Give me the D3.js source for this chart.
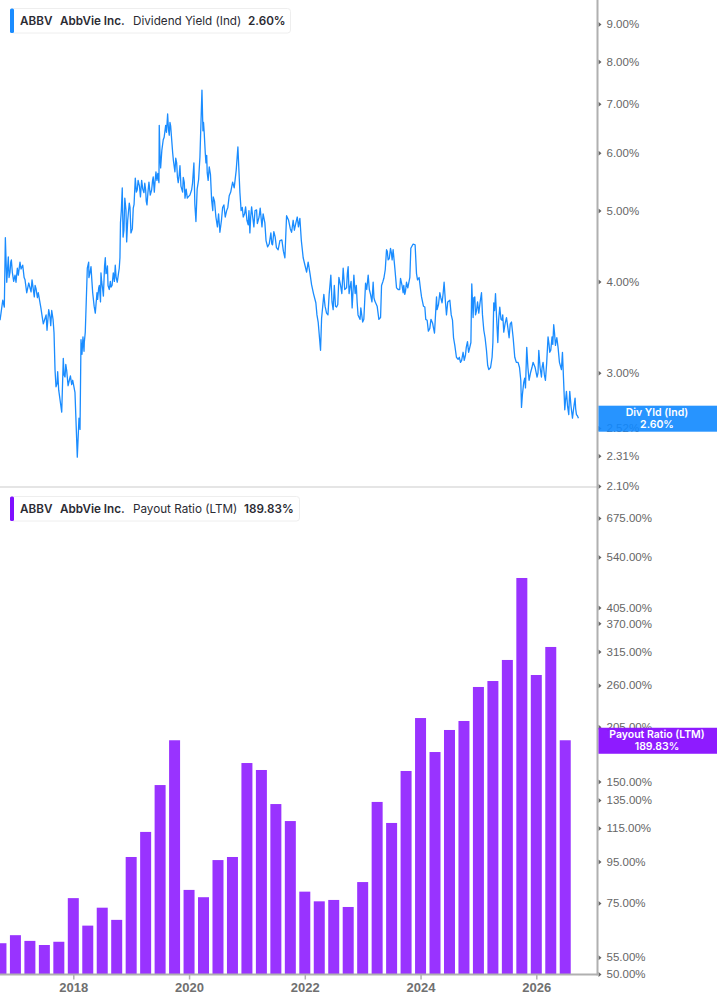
<!DOCTYPE html>
<html>
<head>
<meta charset="utf-8">
<script src="https://cdn.jsdelivr.net/npm/d3@7"></script>
<style>
  html, body { margin: 0; padding: 0; background: #fff; }
  svg { display: block; font-family: Inter, "Noto Sans", sans-serif; }
  .tick-label { font-size: 11.5px; fill: #666; }
  .year-label { font-size: 13px; font-weight: 600; fill: #707070; }
  .legend-text { font-size: 11.7px; fill: #2b2b33; }
  .tag-text { font-size: 10.5px; font-weight: 600; fill: #fff; text-anchor: middle; }
</style>
</head>
<body>
<svg id="chart" width="717" height="1005"></svg>
<script>
const yieldYears = [
  2016.734,2016.751,2016.781,2016.808,2016.826,2016.850,2016.877,2016.907,2016.919,2016.946,2016.993,
  2017.010,2017.033,2017.079,2017.097,2017.126,2017.166,2017.195,2017.252,2017.287,2017.326,2017.356,2017.395,
  2017.465,2017.482,2017.511,2017.546,2017.575,2017.598,2017.627,2017.667,2017.684,2017.701,2017.730,2017.748,
  2017.800,2017.827,2017.857,2017.886,2017.931,2017.972,2017.990,
  2018.029,2018.069,2018.098,2018.116,2018.133,2018.150,2018.167,2018.185,2018.207,2018.242,2018.266,2018.288,
  2018.306,2018.335,2018.380,2018.409,2018.439,2018.461,2018.478,2018.508,2018.553,2018.577,2018.622,2018.651,
  2018.691,2018.725,2018.760,2018.794,2018.806,2018.815,2018.846,2018.875,2018.910,2018.922,2018.967,2018.996,
  2019.036,2019.071,2019.105,2019.143,2019.181,2019.221,2019.250,2019.273,2019.307,2019.354,2019.381,2019.411,
  2019.428,2019.480,2019.485,2019.509,2019.554,2019.596,2019.630,2019.658,2019.682,2019.717,2019.756,2019.786,
  2019.813,2019.843,2019.889,2019.917,2019.986,
  2020.045,2020.084,2020.119,2020.165,2020.188,2020.223,2020.240,2020.262,2020.292,2020.314,2020.349,2020.390,
  2020.418,2020.464,2020.533,2020.602,2020.625,2020.694,2020.753,2020.780,2020.815,2020.844,2020.879,2020.936,2020.977,
  2021.022,2021.051,2021.081,2021.120,2021.167,2021.195,2021.229,2021.310,2021.357,2021.414,2021.443,2021.488,
  2021.540,2021.604,2021.656,2021.685,2021.772,2021.799,2021.846,2021.915,2021.972,
  2022.031,2022.058,2022.117,2022.191,2022.231,2022.272,2022.290,2022.329,2022.376,2022.421,2022.450,2022.490,
  2022.549,2022.589,2022.618,2022.663,2022.722,2022.749,2022.779,2022.818,2022.848,2022.905,2022.939,2022.968,
  2023.020,2023.050,2023.095,2023.136,2023.181,2023.210,2023.309,2023.326,2023.366,2023.412,2023.440,2023.481,
  2023.509,2023.526,2023.556,2023.585,2023.613,2023.654,2023.699,2023.728,2023.757,2023.815,2023.832,2023.872,
  2023.906,2023.948,2023.975,
  2024.017,2024.074,2024.114,2024.160,2024.207,2024.241,2024.276,2024.286,2024.333,2024.372,2024.407,2024.448,
  2024.506,2024.552,2024.592,2024.649,2024.690,2024.735,2024.776,2024.811,2024.851,2024.885,2024.908,2024.937,2024.967,
  2025.006,2025.053,2025.093,2025.139,2025.179,2025.236,2025.265,2025.295,2025.335,2025.369,2025.409,2025.438,
  2025.485,2025.530,2025.571,2025.628,2025.685,2025.732,2025.744,2025.783,2025.813,2025.835,2025.875,2025.944,
  2026.013,2026.043,2026.089,2026.117,2026.158,2026.203,2026.232,2026.272,2026.301,2026.331,2026.376,2026.434,
  2026.452,2026.492,2026.521,2026.561,2026.578,2026.625,2026.670,2026.694,2026.728
];
const yieldValues = [
  3.54,3.62,3.77,3.69,4.59,3.99,4.32,4.12,4.25,4.12,4.08,
  3.99,4.17,4.25,4.16,4.21,4.02,3.86,3.92,4.02,3.81,3.91,3.86,
  3.57,3.50,3.56,3.43,3.66,3.57,3.65,3.40,3.03,2.87,3.01,2.84,
  2.65,3.14,2.96,3.02,2.93,2.89,2.93,
  2.82,2.30,2.60,2.51,3.33,3.18,3.36,3.21,3.41,4.17,4.25,4.11,
  4.19,3.86,3.62,3.86,3.92,3.84,4.11,3.90,4.31,4.11,3.90,3.93,
  4.11,4.21,3.99,4.17,4.31,4.81,5.37,4.70,5.01,4.53,5.12,4.66,
  5.04,5.54,5.34,5.40,5.50,5.29,5.34,5.09,5.47,5.34,5.56,5.46,
  5.65,5.46,6.54,5.72,6.25,6.54,6.78,6.34,6.53,6.00,5.65,5.81,
  5.46,5.76,5.30,5.47,5.22,
  5.34,5.81,4.83,5.51,5.92,7.31,6.43,6.39,5.81,5.63,5.74,5.17,
  5.22,4.90,4.67,5.09,4.90,5.24,5.47,5.37,5.68,6.11,5.29,4.90,5.06,
  4.78,4.66,5.06,4.75,5.01,4.85,5.04,4.81,4.46,4.66,4.49,4.60,
  4.42,4.56,4.31,4.92,4.67,4.85,4.81,4.88,4.31,
  4.12,4.25,3.96,3.74,3.52,3.22,3.56,3.84,3.62,3.84,4.08,3.66,
  3.69,4.05,3.95,4.17,3.92,4.19,3.92,3.68,4.08,3.74,3.57,3.68,
  3.55,3.98,4.08,3.84,3.99,3.76,3.57,3.95,4.04,4.42,4.28,4.44,
  4.28,4.42,4.17,3.92,3.90,4.04,3.86,3.84,3.99,4.05,4.44,4.50,
  4.49,4.02,4.05,
  3.81,3.69,3.54,3.45,3.51,3.40,3.81,3.66,3.86,3.74,3.99,3.60,
  3.77,3.54,3.27,3.13,3.10,3.20,3.17,3.31,3.25,3.97,3.57,3.81,3.65,
  3.62,3.86,3.43,3.22,3.03,3.15,3.74,3.85,3.30,3.69,3.54,3.41,
  3.57,3.35,3.52,3.15,3.10,2.93,2.69,2.91,2.86,3.25,2.93,3.10,
  2.96,3.22,2.96,3.10,2.93,3.36,3.20,3.36,3.49,3.27,3.25,3.03,
  3.20,2.67,2.83,2.63,2.83,2.60,2.77,2.63,2.60
];

// finer wiggles of the same line
const yieldDetailYears = [
  2016.89,2016.93,2016.97,2017.05,2017.15,2017.23,2017.27,2017.34,2017.38,2017.44,2017.53,2017.61,2017.65,
  2017.72,2017.84,2017.87,2017.91,2017.95,2018.19,2018.27,2018.32,2018.36,2018.42,2018.45,2018.47,2018.49,
  2018.52,2018.54,2018.565,2018.59,2018.60,2018.64,2018.67,2018.71,2018.74,2018.78,2018.83,2018.86,2018.89,
  2018.94,2018.98,2019.02,2019.05,2019.09,2019.12,2019.16,2019.20,2019.235,2019.26,2019.29,2019.33,2019.37,
  2019.40,2019.445,2019.46,2019.50,2019.53,2019.57,2019.61,2019.645,2019.67,2019.73,2019.77,2019.80,2019.83,
  2019.86,2019.90,2019.93,2019.95,2019.97,2020.015,2020.06,2020.10,2020.14,2020.25,2020.28,2020.305,2020.33,
  2020.37,2020.41,2020.44,2020.49,2020.51,2020.56,2020.58,2020.65,2020.67,2020.72,2020.90,2020.92,2020.96,
  2021.00,2021.035,2021.065,2021.10,2021.14,2021.18,2021.21,2021.26,2021.28,2021.33,2021.385,2021.43,2021.465,
  2021.51,2021.57,2021.63,2021.72,2021.75,2021.82,2021.87,2021.89,2021.94,2022.09,2022.15,2022.21,2022.35,
  2022.40,2022.47,2022.51,2022.53,2022.57,2022.64,2022.69,2022.735,2022.765,2022.80,2022.87,2022.89,2022.92,
  2022.955,2023.00,2023.07,2023.115,2023.16,2023.195,2023.25,2023.28,2023.35,2023.39,2023.425,2023.46,2023.495,
  2023.64,2023.68,2023.71,2023.74,2023.78,2023.93,2024.00,2024.05,2024.09,2024.135,2024.18,2024.225,2024.31,
  2024.35,2024.39,2024.43,2024.47,2024.53,2024.57,2024.62,2024.67,2024.71,2024.755,2024.79,2024.83,2024.87,
  2024.92,2024.95,2024.985,2025.03,2025.07,2025.115,2025.16,2025.21,2025.25,2025.28,2025.315,2025.35,2025.39,
  2025.42,2025.46,2025.51,2025.55,2025.60,2025.655,2025.71,2025.76,2025.80,2025.855,2025.90,2025.925,2025.98,
  2026.03,2026.065,2026.10,2026.14,2026.18,2026.22,2026.25,2026.285,2026.315,2026.355,2026.40,2026.47,2026.505,
  2026.54,2026.57,2026.60,2026.65,2026.68,2026.71
];
const yieldDetailValues = [
  4.05,4.28,4.00,4.08,4.05,3.98,3.87,3.95,3.80,3.68,3.60,3.48,3.55,
  2.90,2.98,3.08,2.88,2.97,3.30,4.05,4.02,3.70,3.78,3.95,3.75,4.00,
  3.82,4.20,4.10,4.20,3.95,4.00,3.95,4.00,4.05,4.10,5.00,4.60,5.20,
  4.85,5.05,4.72,5.10,5.30,5.50,5.22,5.35,5.45,5.15,5.30,5.25,5.50,
  5.30,5.50,5.62,5.90,6.05,6.30,6.40,6.45,6.60,5.85,5.90,5.55,5.60,
  5.40,5.55,5.20,5.35,5.20,5.25,5.45,5.10,5.35,6.60,6.00,5.95,5.50,
  5.60,5.00,5.15,4.75,4.95,4.85,5.05,5.00,5.05,5.30,5.00,5.05,4.95,
  4.85,5.00,4.90,4.90,5.00,4.80,4.90,4.75,4.95,4.55,4.50,4.50,4.68,
  4.45,4.55,4.40,4.85,4.72,4.70,4.90,4.75,4.55,4.10,3.85,3.60,3.70,
  3.60,3.75,3.95,3.70,3.72,3.85,3.90,4.10,3.85,4.00,3.85,3.95,3.60,
  3.55,3.52,3.90,3.90,3.75,3.80,3.70,3.55,4.00,4.15,4.40,4.30,4.38,
  3.90,3.95,3.95,3.88,3.92,4.10,3.90,3.70,3.55,3.42,3.55,3.45,3.72,
  3.80,3.85,3.75,3.75,3.60,3.35,3.15,3.15,3.12,3.12,3.25,3.20,3.30,
  3.80,3.60,3.75,3.75,3.60,3.35,3.07,3.05,3.30,3.65,3.55,3.55,3.55,
  3.60,3.50,3.45,3.50,3.35,3.10,3.05,2.80,2.95,3.05,3.00,3.05,3.05,
  3.00,3.05,3.05,2.98,3.10,3.28,3.22,3.28,3.40,3.35,3.10,2.95,2.75,
  2.70,2.75,2.70,2.70,2.68,2.62
];

const payoutQuarters = d3.range(2016.75, 2026.51, 0.25);
const payoutValues = [
  59.6,62.4,60.4,59.0,60.1,77.1,65.9,73.0,68.1,97.5,
  112.5,147.0,189.83,80.8,77.5,95.8,97.5,166.7,160.2,131.9,
  119.7,80.0,75.7,76.3,73.3,84.5,133.5,118.4,159.3,215.5,
  177.5,201.3,211.9,257.3,266.2,300.2,479.3,275.5,323.3,189.83
];

const yearTicks = [2018, 2020, 2022, 2024, 2026];
const yieldTicks = [9, 8, 7, 6, 5, 4, 3, 2.52, 2.31, 2.1];
const payoutTicks = [675, 540, 405, 370, 315, 260, 205, 150, 135, 115, 95, 75, 55, 50];

const blue = '#1a8cff';
const purple = '#9933ff';
const axisGray = '#b0b0b0';
const axisX = 597.5;

const svg = d3.select('#chart');

const x = d3.scaleLinear().domain([2018, 2026]).range([73.3, 536.3]);
const yYield = d3.scaleLog().domain([2.1, 9]).range([486, 24]);
const yPayout = d3.scaleLog().domain([50, 675]).range([974, 518]);

// pane separator
svg.append('line')
  .attr('x1', 0).attr('x2', axisX)
  .attr('y1', 487).attr('y2', 487)
  .attr('stroke', '#dcdcdc').attr('stroke-width', 1.5);

// dividend yield line
const line = d3.line()
  .x((d) => x(d[0]))
  .y((d) => yYield(d[1]));

const yieldPoints = d3.zip(yieldYears, yieldValues)
  .concat(d3.zip(yieldDetailYears, yieldDetailValues))
  .sort((a, b) => d3.ascending(a[0], b[0]));

svg.append('path')
  .datum(yieldPoints)
  .attr('d', line)
  .attr('fill', 'none')
  .attr('stroke', blue)
  .attr('stroke-width', 1.3)
  .attr('stroke-linejoin', 'round');

// payout bars
const barWidth = (x(2018.25) - x(2018)) * 0.76;
svg.append('g')
  .selectAll('rect')
  .data(payoutValues)
  .join('rect')
  .attr('x', (d, i) => x(payoutQuarters[i]) - barWidth / 2)
  .attr('y', (d) => yPayout(d))
  .attr('width', barWidth)
  .attr('height', (d) => yPayout(50) - yPayout(d))
  .attr('fill', purple);

// right hand axes
function rightAxis(scale, ticks) {
  const g = svg.append('g')
    .attr('transform', `translate(${axisX},0)`)
    .call(d3.axisRight(scale)
      .tickValues(ticks)
      .tickSize(0)
      .tickPadding(9)
      .tickFormat((d) => d3.format('.2f')(d) + '%'));
  g.select('.domain').remove();
  g.selectAll('.tick text').attr('class', 'tick-label').attr('fill', null);
  g.selectAll('.tick').append('path')
    .attr('d', 'M1,-2.5L4,0L1,2.5Z')
    .attr('fill', '#666');
}
rightAxis(yYield, yieldTicks);
rightAxis(yPayout, payoutTicks);

svg.append('line')
  .attr('x1', axisX).attr('x2', axisX)
  .attr('y1', 0).attr('y2', 975.5)
  .attr('stroke', axisGray).attr('stroke-width', 2);

// bottom axis
const xAxis = svg.append('g')
  .attr('transform', 'translate(0,974.5)')
  .call(d3.axisBottom(x)
    .tickValues(yearTicks)
    .tickSize(5)
    .tickPadding(3)
    .tickFormat(d3.format('d')));
xAxis.select('.domain').remove();
xAxis.selectAll('.tick line').attr('stroke', axisGray).attr('stroke-width', 1.5);
xAxis.selectAll('.tick text').attr('class', 'year-label').attr('fill', null);

svg.append('line')
  .attr('x1', 0).attr('x2', axisX)
  .attr('y1', 974.5).attr('y2', 974.5)
  .attr('stroke', axisGray).attr('stroke-width', 2);

// legend boxes
function legend(top, width, color, metric, value, valueX) {
  const g = svg.append('g').attr('transform', `translate(10.5,${top})`);
  g.append('rect')
    .attr('width', width).attr('height', 24.5).attr('rx', 3)
    .attr('fill', '#fff').attr('stroke', '#eeeeee');
  g.append('rect')
    .attr('x', -0.5).attr('y', 0).attr('width', 4).attr('height', 24.5).attr('rx', 1.5)
    .attr('fill', color);
  const parts = [
    ['ABBV', 9.5, 600],
    ['AbbVie Inc.', 49.5, 600],
    [metric, 122.5, 400],
    [value, valueX, 600]
  ];
  g.selectAll('text')
    .data(parts)
    .join('text')
    .attr('class', 'legend-text')
    .attr('x', (d) => d[1])
    .attr('y', 16.5)
    .attr('font-weight', (d) => d[2])
    .text((d) => d[0]);
}
legend(8.5, 280, blue, 'Dividend Yield (Ind)', '2.60%', 237.5);
legend(496.5, 289, '#7f0fff', 'Payout Ratio (LTM)', '189.83%', 233.5);

// last value tags
function tag(value, scale, color, opacity, name, label) {
  const cy = scale(value) + 0.5;
  const g = svg.append('g').attr('transform', `translate(${axisX + 1},${cy})`);
  g.append('rect')
    .attr('x', 0).attr('y', -13).attr('width', 119).attr('height', 26)
    .attr('fill', color).attr('fill-opacity', opacity);
  g.append('text').attr('class', 'tag-text').attr('x', 58.5).attr('y', -2.5).text(name);
  g.append('text').attr('class', 'tag-text').attr('x', 58.5).attr('y', 9).text(label);
}
tag(2.6, yYield, '#1088ff', 0.9, 'Div Yld (Ind)', '2.60%');
tag(189.83, yPayout, '#8a14ff', 0.97, 'Payout Ratio (LTM)', '189.83%');
</script>
</body>
</html>
